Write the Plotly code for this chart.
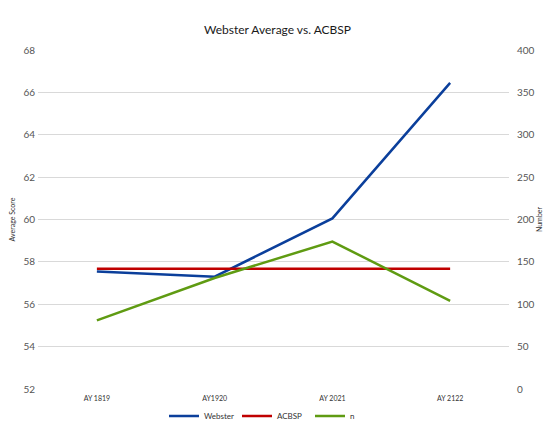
import plotly.graph_objects as go

categories = ["AY 1819", "AY1920", "AY 2021", "AY 2122"]
webster = [57.55, 57.3, 60.05, 66.45]
acbsp = [57.67, 57.67, 57.67, 57.67]
n_values = [81, 131, 174, 104]

left_ticks = [52, 54, 56, 58, 60, 62, 64, 66, 68]
right_ticks = [0, 50, 100, 150, 200, 250, 300, 350, 400]

FONT = "Lato"
TXT = "#555555"

fig = go.Figure()
fig.add_trace(go.Scatter(x=categories, y=webster, name="Webster", mode="lines",
                         line=dict(color="#0b3f9b", width=2.5)))
fig.add_trace(go.Scatter(x=categories, y=acbsp, name="ACBSP", mode="lines",
                         line=dict(color="#c00000", width=2.5)))
fig.add_trace(go.Scatter(x=categories, y=n_values, name="n", mode="lines",
                         line=dict(color="#5f9b12", width=2.5), yaxis="y2"))

fig.update_layout(
    width=555, height=444,
    margin=dict(l=36, r=43, t=50, b=55),
    paper_bgcolor="white", plot_bgcolor="white",
    font=dict(family=FONT, color=TXT),
    title=dict(text="Webster Average vs. ACBSP", x=0.5, xanchor="center",
               y=1 - 30 / 444, yanchor="middle",
               font=dict(family=FONT, size=12, color="#1a1a1a")),
    xaxis=dict(type="category", range=[-0.5, 3.5], showgrid=False, showline=False,
               ticks="", tickfont=dict(size=7, color="#333"), zeroline=False,
               ticklabelstandoff=4),
    yaxis=dict(range=[52, 68], tickvals=left_ticks, showgrid=True, gridcolor="#d9d9d9",
               gridwidth=1, zeroline=False, showline=False, ticks="",
               tickfont=dict(size=10, color=TXT), ticklabelstandoff=2,
               title=dict(text="Average Score", font=dict(size=7, color="#333"), standoff=6)),
    yaxis2=dict(range=[0, 400], tickvals=right_ticks, overlaying="y", side="right",
                showgrid=False, zeroline=False, showline=False, ticks="",
                tickfont=dict(size=10, color=TXT), ticklabelstandoff=7,
                title=dict(text="Number", font=dict(size=7, color="#333"), standoff=3)),
    legend=dict(orientation="h", x=0.5, xanchor="center", y=-0.08, yanchor="middle",
                font=dict(size=8, color="#333"), itemwidth=30, entrywidth=28,
                tracegroupgap=0),
    showlegend=True,
)

fig.write_html("out.html")
